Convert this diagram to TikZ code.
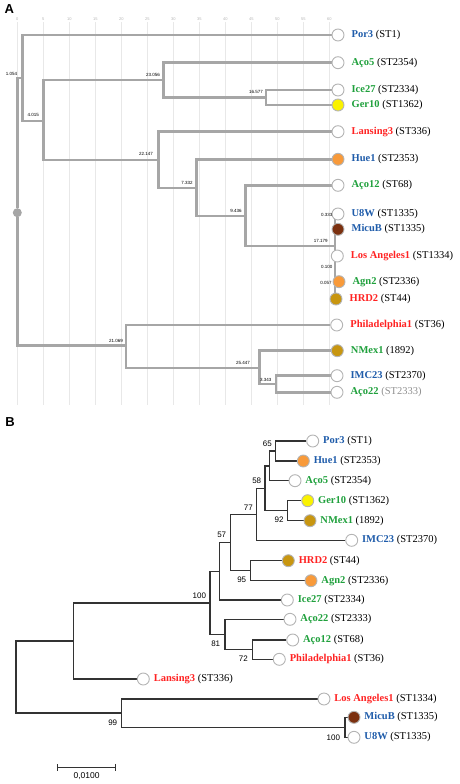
\documentclass[tikz,border=0pt]{standalone}
\usepackage{fontspec}
\setmainfont{Liberation Serif}
\setsansfont{Liberation Sans}
\usetikzlibrary{calc}
\usetikzlibrary{arrows.meta}
\usetikzlibrary{backgrounds}

\definecolor{cblue}{HTML}{1F5CAA}
\definecolor{cgreen}{HTML}{1FA03C}
\definecolor{cred}{HTML}{FF2222}
\definecolor{cyellow}{HTML}{FAF200}
\definecolor{corange}{HTML}{F89A3A}
\definecolor{cbrown}{HTML}{7B300F}
\definecolor{cgold}{HTML}{C89610}
\definecolor{tipgray}{HTML}{B4B4B4}
\definecolor{stgray}{HTML}{909090}
\definecolor{brgray}{HTML}{A6A6A6}
\definecolor{gridc}{HTML}{E8E8E8}
\definecolor{brdark}{HTML}{333333}

\begin{document}
\begin{tikzpicture}[x=1pt, y=-1pt,
  tip/.style={circle, draw=tipgray, line width=.9pt, minimum size=12pt, inner sep=0pt},
  tipname/.style={anchor=west, inner sep=0pt, font=\fontsize{10.5}{12}\selectfont},
  brA/.style={brgray, line width=2.7pt},
  brB/.style={brdark, line width=1.15pt},
  lenA/.style={font=\sffamily\fontsize{4.5}{5}\selectfont, inner sep=0pt},
  bootB/.style={font=\sffamily\fontsize{8}{9}\selectfont, inner sep=0pt},
  panel/.style={font=\sffamily\bfseries\fontsize{13}{14}\selectfont, inner sep=0pt}]
\useasboundingbox (0,0) rectangle (459,784);

\node[panel] at (9.3,9.2) {A};
\node[panel] at (10,422.3) {B};

% panel A: grid and axis numbers
\begin{scope}[on background layer]
\foreach \i [evaluate=\i as \v using int(5*\i)] in {0,...,12} {
  \draw[gridc, line width=1pt] (17.3+26*\i,22) -- (17.3+26*\i,405);
  \node[font=\sffamily\fontsize{4}{4}\selectfont, text=tipgray, inner sep=0pt] at (17.3+26*\i,19) {\v};
}
\end{scope}

% panel A: tips
\foreach \n/\x/\y/\f/\c/\t/\s/\k in {porA/338/35/white/cblue/Por3/ST1/black,
  acofA/338/62.7/white/cgreen/Aço5/ST2354/black, iceA/338/90/white/cgreen/Ice27/ST2334/black,
  gerA/338/105/cyellow/cgreen/Ger10/ST1362/black, lanA/338/131.7/white/cred/Lansing3/ST336/black,
  hueA/338/159.3/corange/cblue/Hue1/ST2353/black, acotA/338/185.3/white/cgreen/Aço12/ST68/black,
  u8wA/338/214/white/cblue/U8W/ST1335/black, micA/338/229.3/cbrown/cblue/MicuB/ST1335/black,
  laA/337.3/256/white/cred/Los Angeles1/ST1334/black, agnA/339/281.7/corange/cgreen/Agn2/ST2336/black,
  hrdA/336/299/cgold/cred/HRD2/ST44/black, phiA/336.7/325/white/cred/Philadelphia1/ST36/black,
  nmxA/337.3/350.7/cgold/cgreen/NMex1/1892/black, imcA/337/375.7/white/cblue/IMC23/ST2370/black,
  acozA/337/392.3/white/cgreen/Aço22/ST2333/stgray} {
  \node[tip, fill=\f] (\n) at (\x,\y) {};
  \node[tipname, xshift=7pt] at (\n.east) {\textbf{\textcolor{\c}{\t}} \textcolor{\k}{(\s)}};
}

% panel A: inner nodes
\node[circle, fill=brgray, minimum size=9pt, inner sep=0pt] (ra) at (17.3,212.7) {};
\coordinate (a1) at (22.7,78);
\coordinate (a2) at (43.3,121);
\coordinate (a3) at (163.3,80);
\coordinate (a4) at (158.3,160);
\coordinate (a5) at (266,97.5);
\coordinate (a6) at (196.7,188);
\coordinate (a7) at (245.7,216);
\coordinate (a8) at (335,246);
\coordinate (a9) at (335,221.7);
\coordinate (a10) at (335,270);
\coordinate (a11) at (335,290);
\coordinate (a12) at (126,345.7);
\coordinate (a13) at (259.3,368);
\coordinate (a14) at (276,384);

\begin{scope}[on background layer]
\foreach \p/\c in {ra/a1, ra/a12, a1/porA, a1/a2, a2/a3, a2/a4, a3/acofA, a3/a5, a5/iceA, a5/gerA,
  a4/lanA, a4/a6, a6/hueA, a6/a7, a7/acotA, a7/a8, a8/a9, a8/a10, a9/u8wA, a9/micA, a10/laA,
  a10/a11, a11/agnA, a11/hrdA, a12/phiA, a12/a13, a13/nmxA, a13/a14, a14/imcA, a14/acozA}
  \draw[brA] (\p) |- (\c);
\end{scope}

\foreach \x/\y/\v in {11.5/73.5/1.054, 33.3/115/4.015, 153/75.3/23.056, 256/91.7/16.577,
  146/154.3/22.147, 187/182.7/7.332, 236/210.7/9.436, 326.7/215/0.333, 320.7/240.7/17.179,
  326.7/266.7/0.100, 326/283.3/0.057, 116/340.7/21.069, 243/363/25.447, 265.7/380/3.343}
  \node[lenA] at (\x,\y) {\v};

% panel B: tips
\foreach \n/\x/\y/\f/\c/\t/\s in {porB/312.7/441/white/cblue/Por3/ST1,
  hueB/303.3/461/corange/cblue/Hue1/ST2353, acofB/295/480.7/white/cgreen/Aço5/ST2354,
  gerB/307.7/500.7/cyellow/cgreen/Ger10/ST1362, nmxB/310/520.7/cgold/cgreen/NMex1/1892,
  imcB/351.7/540.3/white/cblue/IMC23/ST2370, hrdB/288.3/560.7/cgold/cred/HRD2/ST44,
  agnB/311/580.7/corange/cgreen/Agn2/ST2336, iceB/287.3/600/white/cgreen/Ice27/ST2334,
  acozB/290/619.3/white/cgreen/Aço22/ST2333, acotB/292.7/640/white/cgreen/Aço12/ST68,
  phiB/279.3/659.3/white/cred/Philadelphia1/ST36, lanB/143.3/679/white/cred/Lansing3/ST336,
  laB/324/699/white/cred/Los Angeles1/ST1334, micB/354/717.3/cbrown/cblue/MicuB/ST1335,
  u8wB/354/737.3/white/cblue/U8W/ST1335} {
  \node[tip, fill=\f] (\n) at (\x,\y) {};
  \node[tipname, xshift=3.8pt] at (\n.east) {\textbf{\textcolor{\c}{\t}} (\s)};
}

% panel B: inner nodes
\coordinate (b65) at (275.7,451);
\coordinate (bpa) at (269.3,466);
\coordinate (b92) at (287.7,510.7);
\coordinate (b58) at (265,488.5);
\coordinate (b77) at (256.7,514.4);
\coordinate (b95) at (250.7,570.7);
\coordinate (bpb) at (230.7,542.5);
\coordinate (b57) at (219.3,571.3);
\coordinate (b72) at (252.3,649.7);
\coordinate (b81) at (225,634.5);
\coordinate (b100) at (210,603);
\coordinate (bpc) at (73.3,641);
\coordinate (bu) at (345,727.3);
\coordinate (b99) at (121.7,713);
\coordinate (broot) at (16,677);

\begin{scope}[on background layer]
\foreach \p/\c in {b65/porB, b65/hueB, bpa/b65, bpa/acofB, b92/gerB, b92/nmxB, b58/bpa, b58/b92,
  b77/b58, b77/imcB, b95/hrdB, b95/agnB, bpb/b77, bpb/b95, b57/bpb, b57/iceB, b72/acotB, b72/phiB,
  b81/acozB, b81/b72, b100/b57, b100/b81, bpc/b100, bpc/lanB, bu/micB, bu/u8wB, b99/laB, b99/bu,
  broot/bpc, broot/b99}
  \draw[brB] (\p) |- (\c);
\end{scope}

\foreach \x/\y/\v in {267.3/444/65, 256.7/481/58, 248.3/507.3/77, 279/520/92, 221.7/535/57,
  199.3/596/100, 241.7/579.3/95, 215.7/643.3/81, 243.3/658.3/72, 112.7/722.7/99, 333.3/737.3/100}
  \node[bootB] at (\x,\y) {\v};

% scale bar
\coordinate (sbl) at (57.3,767.3);
\coordinate (sbr) at (116,767.3);
\draw[brB, {Bar[width=7pt]}-{Bar[width=7pt]}] (sbl) -- (sbr);
\node[bootB, font=\sffamily\fontsize{8.5}{9}\selectfont] at ($ (sbl)!.5!(sbr) + (0,9.2) $) {0,0100};

\end{tikzpicture}
\end{document}
